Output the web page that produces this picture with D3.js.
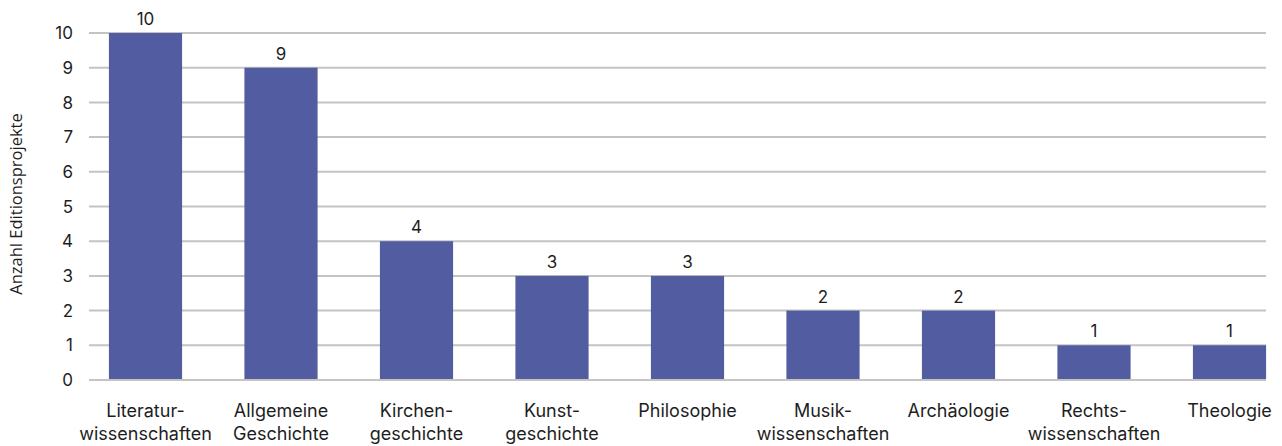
<!DOCTYPE html>
<html><head><meta charset="utf-8">
<script src="https://cdn.jsdelivr.net/npm/d3@7"></script>
<style>body{margin:0;background:#fff}svg{display:block}</style>
</head><body><svg id="c" width="1282" height="446"></svg>
<script>
const categories = [["Literatur-","wissenschaften"],["Allgemeine","Geschichte"],["Kirchen-","geschichte"],["Kunst-","geschichte"],["Philosophie"],["Musik-","wissenschaften"],["Archäologie"],["Rechts-","wissenschaften"],["Theologie"]];
const values = [10,9,4,3,3,2,2,1,1];
const yTicks = [0,1,2,3,4,5,6,7,8,9,10];
const yTitle = "Anzahl Editionsprojekte";

const svg = d3.select("#c");
const keys = categories.map(c => c.join(" "));
const x = d3.scaleBand().domain(keys).range([77.75, 1297.25]).paddingInner(0.46).paddingOuter(0.23);
const y = d3.scaleLinear().domain([0,10]).range([380, 33]);
const font = "Inter, 'Liberation Sans', Arial, sans-serif";

// gridlines
svg.append("g").selectAll("line").data(yTicks).join("line")
  .attr("x1", 89).attr("x2", 1266)
  .attr("y1", d => y(d)).attr("y2", d => y(d))
  .attr("stroke", "#c4c4c4").attr("stroke-width", 2);

// y tick labels
svg.append("g").selectAll("text").data(yTicks).join("text")
  .attr("x", 73).attr("y", d => y(d)).attr("dy", "0.36em")
  .attr("text-anchor", "end").attr("font-family", font).attr("font-size", 17).attr("fill", "#1e1e1e")
  .text(d => d);

// bars
svg.append("g").selectAll("rect").data(values).join("rect")
  .attr("x", (d,i) => x(keys[i])).attr("width", x.bandwidth())
  .attr("y", d => y(d)).attr("height", d => y(0) - y(d) - 1)
  .attr("fill", "#525ca1");

// value labels
svg.append("g").selectAll("text").data(values).join("text")
  .attr("x", (d,i) => x(keys[i]) + x.bandwidth()/2).attr("y", d => y(d) - 8)
  .attr("text-anchor", "middle").attr("font-family", font).attr("font-size", 17).attr("fill", "#1e1e1e")
  .text(d => d);

// x labels
const xl = svg.append("g").selectAll("text").data(categories).join("text")
  .attr("x", (d,i) => x(keys[i]) + x.bandwidth()/2).attr("y", 416.5)
  .attr("text-anchor", "middle").attr("font-family", font).attr("font-size", 18).attr("fill", "#1e1e1e");
xl.selectAll("tspan").data(d => d).join("tspan")
  .attr("x", function(){ return d3.select(this.parentNode).attr("x"); })
  .attr("dy", (d,i) => i === 0 ? 0 : 23).text(d => d);

// y title
svg.append("text").attr("transform", "translate(22,204) rotate(-90)")
  .attr("text-anchor", "middle").attr("font-family", "'Open Sans', sans-serif").attr("font-size", 16.5).attr("fill", "#1e1e1e")
  .text(yTitle);
</script></body></html>
